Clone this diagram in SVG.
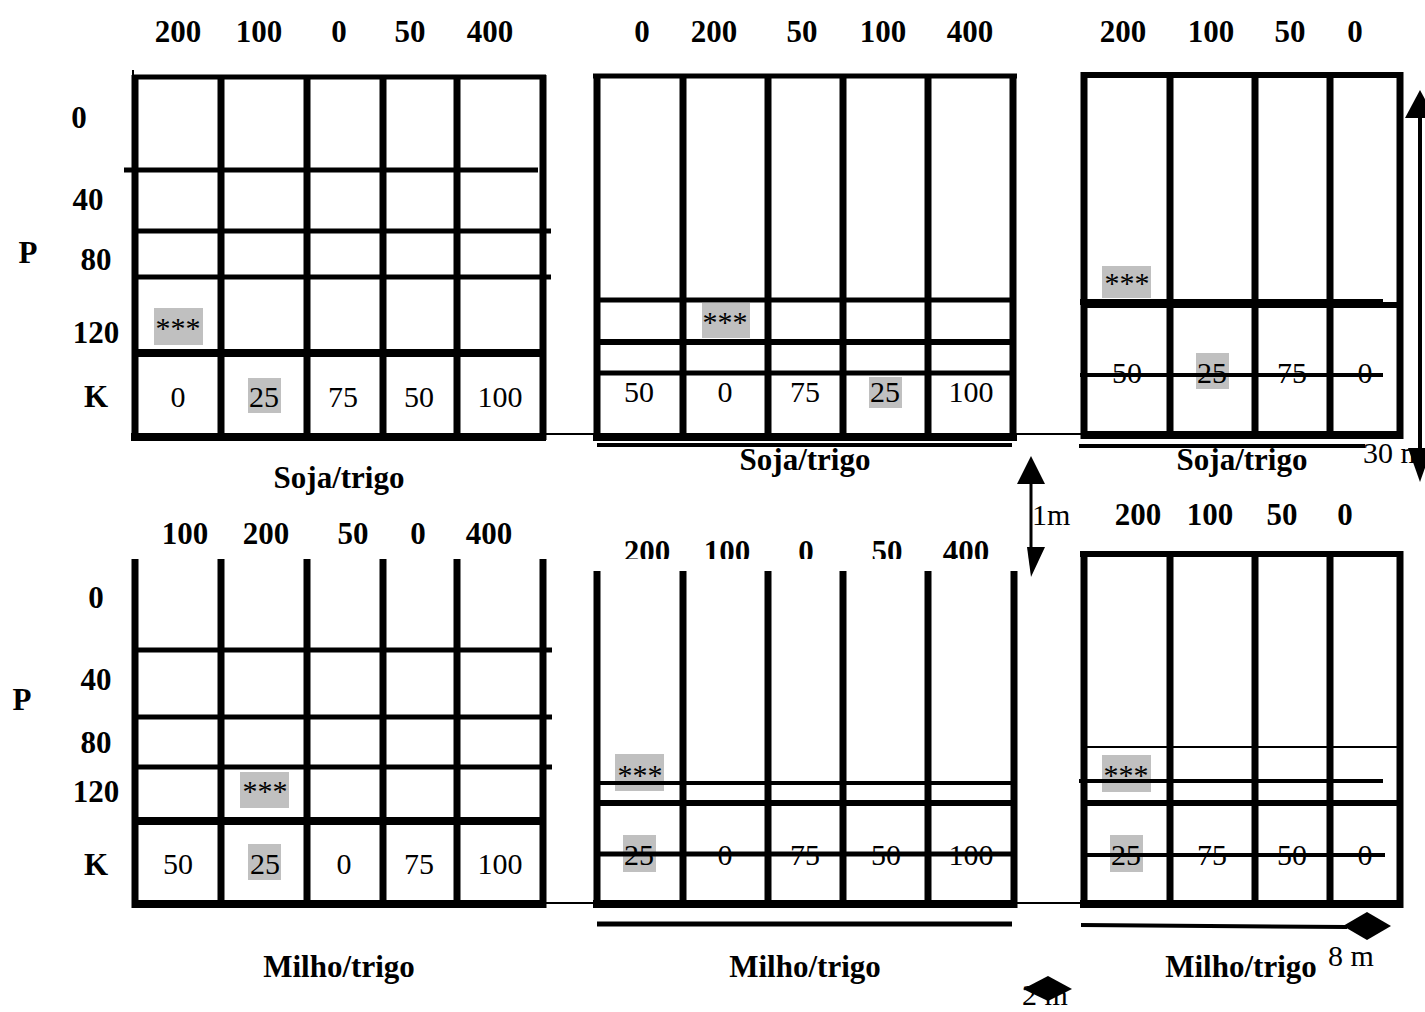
<svg xmlns="http://www.w3.org/2000/svg" width="1425" height="1012" viewBox="0 0 1425 1012">
<style>
text{font-family:"Liberation Serif","Times New Roman",serif;font-size:30px;fill:#000;text-anchor:middle}
.b{font-weight:bold;font-size:31px}
.l{text-anchor:start}
line{stroke:#000;stroke-linecap:butt}
.v{stroke-width:7}
.h{stroke-width:5}
.t{stroke-width:8}
.s{stroke-width:4}
.thin{stroke-width:2}
.hl{fill:#c0c0c0}
</style>
<defs>
<clipPath id="clipHdr"><rect x="560" y="500" width="460" height="59"/></clipPath>
</defs>
<rect width="1425" height="1012" fill="#fff"/>

<g id="connectors">
<line class="thin" x1="543" y1="434" x2="1084" y2="434"/>
<line class="thin" x1="543" y1="903" x2="1084" y2="903"/>
<line class="s" x1="1420" y1="115" x2="1420" y2="450"/>
<polygon points="1420,90 1405,118 1435,118"/>
<polygon points="1408,448 1432,448 1420,482"/>
<line x1="1031" y1="482" x2="1031" y2="548" stroke-width="3"/>
<polygon points="1031,456 1017,484 1045,484"/>
<polygon points="1027,547 1045,547 1031,577"/>
<line class="s" x1="1081" y1="925" x2="1347" y2="927"/>
<polygon points="1343,926 1367,912 1391,926 1367,940"/>
<polygon points="1023,989 1048,976 1072,989 1048,1001"/>
<text class="l" x="1363" y="463">30 m</text>
<text class="l" x="1032" y="525">1m</text>
<text class="l" x="1328" y="966">8 m</text>
<text class="l" x="1022" y="1005">2 m</text>
</g>

<g id="block-top-left">
<text class="b" x="178" y="42">200</text>
<text class="b" x="259" y="42">100</text>
<text class="b" x="339" y="42">0</text>
<text class="b" x="410" y="42">50</text>
<text class="b" x="490" y="42">400</text>
<text class="b" x="79" y="128">0</text>
<text class="b" x="88" y="210">40</text>
<text class="b" x="28" y="263">P</text>
<text class="b" x="96" y="270">80</text>
<text class="b" x="96" y="343">120</text>
<text class="b" x="96" y="407">K</text>
<line x1="133" y1="70" x2="133" y2="77" stroke-width="2"/>
<line class="v" x1="135" y1="75" x2="135" y2="440"/>
<line class="v" x1="221" y1="75" x2="221" y2="440"/>
<line class="v" x1="307" y1="75" x2="307" y2="440"/>
<line class="v" x1="383" y1="75" x2="383" y2="440"/>
<line class="v" x1="457" y1="75" x2="457" y2="440"/>
<line class="v" x1="543" y1="75" x2="543" y2="440"/>
<line class="h" x1="132" y1="77" x2="546" y2="77"/>
<line class="h" x1="124" y1="170" x2="538" y2="170"/>
<line class="h" x1="135" y1="231" x2="551" y2="231"/>
<line class="h" x1="135" y1="277" x2="551" y2="277"/>
<line class="t" x1="135" y1="353" x2="546" y2="353"/>
<line class="t" x1="131" y1="437" x2="546" y2="437"/>
<rect class="hl" x="154" y="308" width="49" height="37"/>
<text x="178" y="338">***</text>
<rect class="hl" x="248" y="378" width="33" height="35"/>
<text x="178" y="407">0</text>
<text x="264" y="407">25</text>
<text x="343" y="407">75</text>
<text x="419" y="407">50</text>
<text x="500" y="407">100</text>
<text class="b" x="339" y="488">Soja/trigo</text>
</g>

<g id="block-top-middle">
<text class="b" x="642" y="42">0</text>
<text class="b" x="714" y="42">200</text>
<text class="b" x="802" y="42">50</text>
<text class="b" x="883" y="42">100</text>
<text class="b" x="970" y="42">400</text>
<line class="v" x1="597" y1="74" x2="597" y2="441"/>
<line class="v" x1="683" y1="74" x2="683" y2="441"/>
<line class="v" x1="768" y1="74" x2="768" y2="441"/>
<line class="v" x1="843" y1="74" x2="843" y2="441"/>
<line class="v" x1="928" y1="74" x2="928" y2="441"/>
<line class="v" x1="1013" y1="74" x2="1013" y2="441"/>
<line class="h" x1="593" y1="76" x2="1017" y2="76"/>
<line class="h" x1="597" y1="300" x2="1014" y2="300"/>
<line x1="597" y1="342" x2="1014" y2="342" stroke-width="6"/>
<line class="h" x1="597" y1="373" x2="1014" y2="373"/>
<line class="t" x1="593" y1="437" x2="1017" y2="437"/>
<line class="s" x1="597" y1="445" x2="1012" y2="445"/>
<rect class="hl" x="702" y="303" width="48" height="35"/>
<text x="725" y="332">***</text>
<rect class="hl" x="869" y="377" width="33" height="31"/>
<text x="639" y="402">50</text>
<text x="725" y="402">0</text>
<text x="805" y="402">75</text>
<text x="885" y="402">25</text>
<text x="971" y="402">100</text>
<text class="b" x="805" y="470">Soja/trigo</text>
</g>

<g id="block-top-right">
<text class="b" x="1123" y="42">200</text>
<text class="b" x="1211" y="42">100</text>
<text class="b" x="1290" y="42">50</text>
<text class="b" x="1355" y="42">0</text>
<line class="v" x1="1084" y1="72" x2="1084" y2="439"/>
<line class="v" x1="1170" y1="72" x2="1170" y2="439"/>
<line class="v" x1="1255" y1="72" x2="1255" y2="439"/>
<line class="v" x1="1330" y1="72" x2="1330" y2="439"/>
<line class="v" x1="1400" y1="72" x2="1400" y2="439"/>
<line x1="1081" y1="75" x2="1403" y2="75" stroke-width="6"/>
<rect class="hl" x="1102" y="266" width="49" height="32"/>
<text x="1127" y="293">***</text>
<line x1="1080" y1="302" x2="1383" y2="302" stroke-width="6"/>
<line x1="1084" y1="305" x2="1400" y2="305" stroke-width="6"/>
<rect class="hl" x="1196" y="353" width="33" height="36"/>
<text x="1127" y="383">50</text>
<text x="1212" y="383">25</text>
<text x="1292" y="383">75</text>
<text x="1365" y="383">0</text>
<line class="s" x1="1080" y1="375" x2="1383" y2="375"/>
<line class="t" x1="1081" y1="435" x2="1403" y2="435"/>
<line class="s" x1="1079" y1="446" x2="1365" y2="446"/>
<text class="b" x="1242" y="470">Soja/trigo</text>
</g>

<g id="block-bottom-left">
<text class="b" x="185" y="544">100</text>
<text class="b" x="266" y="544">200</text>
<text class="b" x="353" y="544">50</text>
<text class="b" x="418" y="544">0</text>
<text class="b" x="489" y="544">400</text>
<text class="b" x="96" y="608">0</text>
<text class="b" x="96" y="690">40</text>
<text class="b" x="22" y="710">P</text>
<text class="b" x="96" y="753">80</text>
<text class="b" x="96" y="802">120</text>
<text class="b" x="96" y="875">K</text>
<line class="v" x1="135" y1="559" x2="135" y2="908"/>
<line class="v" x1="221" y1="559" x2="221" y2="908"/>
<line class="v" x1="307" y1="559" x2="307" y2="908"/>
<line class="v" x1="383" y1="559" x2="383" y2="908"/>
<line class="v" x1="457" y1="559" x2="457" y2="908"/>
<line class="v" x1="543" y1="559" x2="543" y2="908"/>
<line class="h" x1="135" y1="650" x2="552" y2="650"/>
<line class="h" x1="135" y1="717" x2="552" y2="717"/>
<line class="h" x1="135" y1="767" x2="552" y2="767"/>
<line class="t" x1="135" y1="821" x2="546" y2="821"/>
<line class="t" x1="132" y1="904" x2="546" y2="904"/>
<rect class="hl" x="240" y="772" width="49" height="36"/>
<text x="265" y="801">***</text>
<rect class="hl" x="248" y="844" width="33" height="36"/>
<text x="178" y="874">50</text>
<text x="265" y="874">25</text>
<text x="344" y="874">0</text>
<text x="419" y="874">75</text>
<text x="500" y="874">100</text>
<text class="b" x="339" y="977">Milho/trigo</text>
</g>

<g id="block-bottom-middle">
<g clip-path="url(#clipHdr)">
<text class="b" x="647" y="562">200</text>
<text class="b" x="727" y="562">100</text>
<text class="b" x="806" y="562">0</text>
<text class="b" x="887" y="562">50</text>
<text class="b" x="966" y="562">400</text>
</g>
<line class="v" x1="597" y1="571" x2="597" y2="908"/>
<line class="v" x1="683" y1="571" x2="683" y2="908"/>
<line class="v" x1="768" y1="571" x2="768" y2="908"/>
<line class="v" x1="843" y1="571" x2="843" y2="908"/>
<line class="v" x1="928" y1="571" x2="928" y2="908"/>
<line class="v" x1="1014" y1="571" x2="1014" y2="908"/>
<rect class="hl" x="615" y="754" width="49" height="37"/>
<text x="640" y="785">***</text>
<line class="s" x1="597" y1="783" x2="1014" y2="783"/>
<line x1="597" y1="803" x2="1014" y2="803" stroke-width="6"/>
<rect class="hl" x="623" y="835" width="33" height="37"/>
<text x="639" y="865">25</text>
<text x="725" y="865">0</text>
<text x="805" y="865">75</text>
<text x="886" y="865">50</text>
<text x="971" y="865">100</text>
<line class="h" x1="597" y1="854" x2="1014" y2="854"/>
<line class="t" x1="593" y1="904" x2="1017" y2="904"/>
<line class="h" x1="597" y1="924" x2="1012" y2="924"/>
<text class="b" x="805" y="977">Milho/trigo</text>
</g>

<g id="block-bottom-right">
<text class="b" x="1138" y="525">200</text>
<text class="b" x="1210" y="525">100</text>
<text class="b" x="1282" y="525">50</text>
<text class="b" x="1345" y="525">0</text>
<line class="v" x1="1084" y1="551" x2="1084" y2="908"/>
<line class="v" x1="1170" y1="551" x2="1170" y2="908"/>
<line class="v" x1="1255" y1="551" x2="1255" y2="908"/>
<line class="v" x1="1330" y1="551" x2="1330" y2="908"/>
<line class="v" x1="1400" y1="551" x2="1400" y2="908"/>
<line x1="1080" y1="554" x2="1403" y2="554" stroke-width="6"/>
<line class="thin" x1="1084" y1="747" x2="1400" y2="747"/>
<rect class="hl" x="1102" y="755" width="49" height="37"/>
<text x="1126" y="785">***</text>
<line class="s" x1="1079" y1="781" x2="1383" y2="781"/>
<line x1="1084" y1="803" x2="1400" y2="803" stroke-width="6"/>
<rect class="hl" x="1110" y="835" width="33" height="37"/>
<text x="1126" y="865">25</text>
<text x="1212" y="865">75</text>
<text x="1292" y="865">50</text>
<text x="1365" y="865">0</text>
<line class="s" x1="1084" y1="855" x2="1385" y2="855"/>
<line class="t" x1="1080" y1="904" x2="1403" y2="904"/>
<text class="b" x="1241" y="977">Milho/trigo</text>
</g>
</svg>
